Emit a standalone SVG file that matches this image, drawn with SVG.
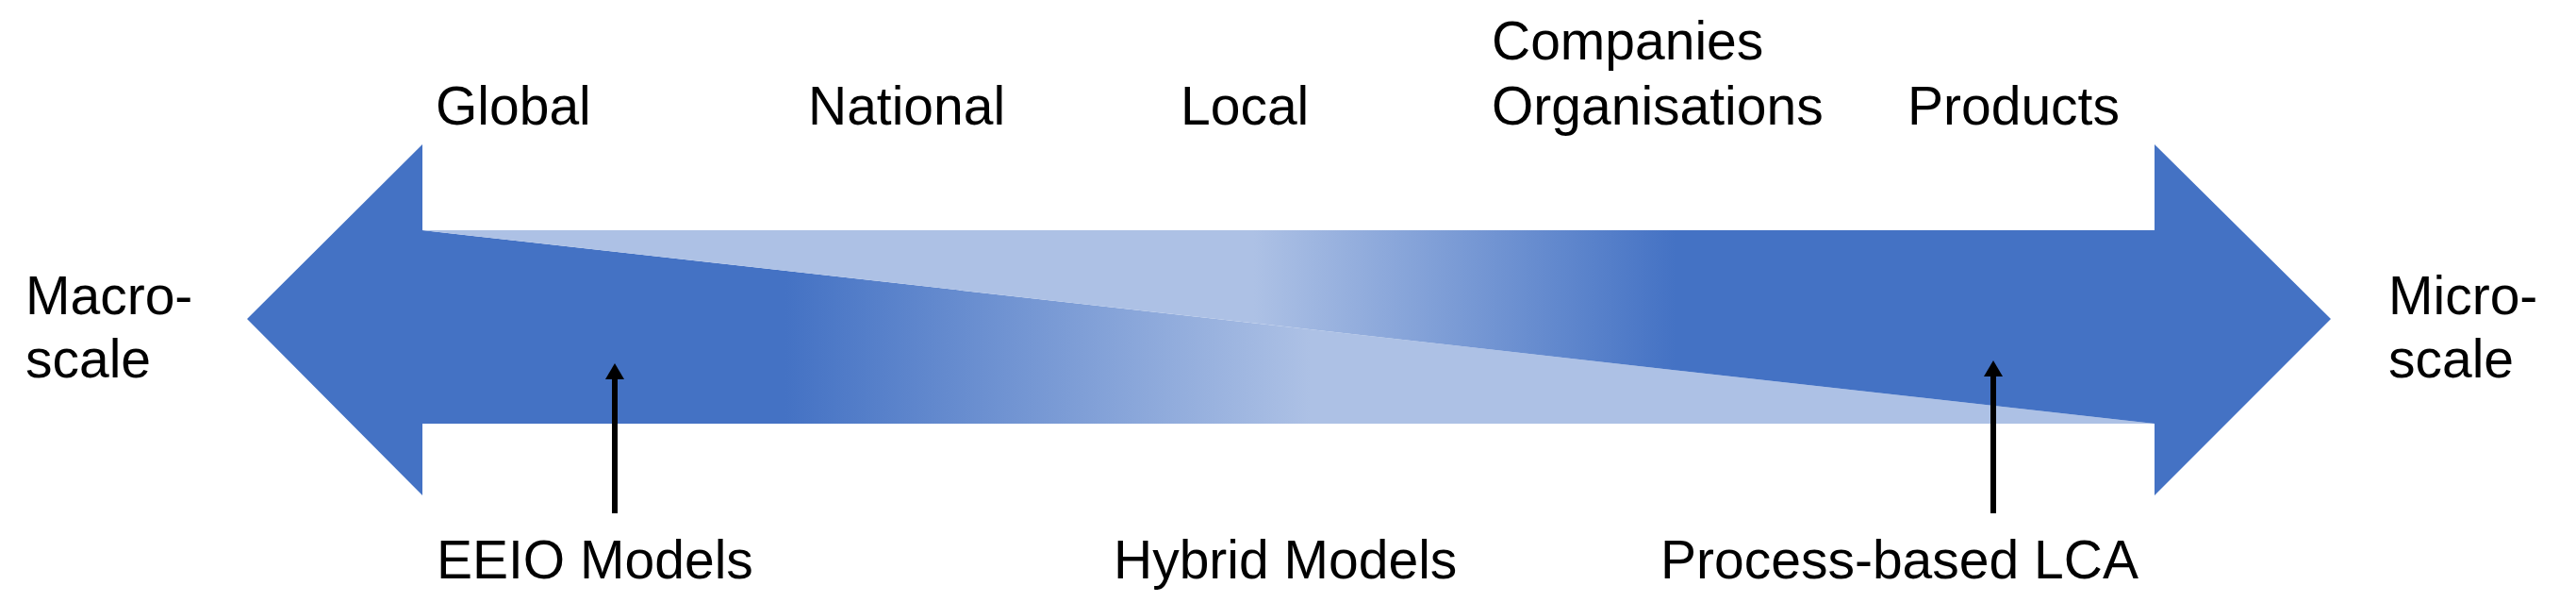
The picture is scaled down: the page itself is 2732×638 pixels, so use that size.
<svg xmlns="http://www.w3.org/2000/svg" width="2732" height="638" viewBox="0 0 2732 638">
<defs>
<style>
text{font-family:"Liberation Sans",Arial,sans-serif;font-size:57px;fill:#000}
.ptr{stroke:#000;stroke-width:6;fill:none}
</style>
<linearGradient id="gA" gradientUnits="userSpaceOnUse" x1="448" y1="0" x2="2285" y2="0">
<stop offset="0" stop-color="#4472C4"/>
<stop offset="0.2096" stop-color="#4472C4"/>
<stop offset="0.5128" stop-color="#ADC1E5"/>
<stop offset="1" stop-color="#ADC1E5"/>
</linearGradient>
<linearGradient id="gB" gradientUnits="userSpaceOnUse" x1="448" y1="0" x2="2285" y2="0">
<stop offset="0" stop-color="#ADC1E5"/>
<stop offset="0.48" stop-color="#ADC1E5"/>
<stop offset="0.7235" stop-color="#4472C4"/>
<stop offset="1" stop-color="#4472C4"/>
</linearGradient>
<marker id="ah" markerWidth="17" markerHeight="20" refX="0" refY="10" orient="auto" markerUnits="userSpaceOnUse" viewBox="0 0 17 20">
<path d="M0,0 L17,10 L0,20 Z" fill="#000"/>
</marker>
</defs>
<g id="macro-arrow">
<path d="M262,338 L448,153 L448,244 L2285,449 L448,449 L448,525 Z" fill="url(#gA)"/>
</g>
<g id="micro-arrow">
<path d="M448,244 L2285,244 L2285,153 L2472,338 L2285,525 L2285,449 Z" fill="url(#gB)"/>
</g>
<g id="macro-label"><text x="27" y="333">Macro-</text><text x="27" y="400">scale</text></g>
<g id="micro-label"><text x="2533" y="333">Micro-</text><text x="2533" y="400">scale</text></g>
<g id="global"><text x="462" y="132">Global</text></g>
<g id="national"><text x="857" y="132">National</text></g>
<g id="local"><text x="1252" y="132">Local</text></g>
<g id="companies"><text x="1582" y="63">Companies</text><text x="1582" y="132">Organisations</text></g>
<g id="products"><text x="2023" y="132">Products</text></g>
<g id="eeio"><text x="463" y="613">EEIO Models</text></g>
<g id="hybrid"><text x="1181" y="613">Hybrid Models</text></g>
<g id="process"><text x="1761" y="613">Process-based LCA</text></g>
<g id="connectors">
<line class="ptr" x1="652" y1="544" x2="652" y2="402" marker-end="url(#ah)"/>
<line class="ptr" x1="2114" y1="544" x2="2114" y2="399" marker-end="url(#ah)"/>
</g>
</svg>
